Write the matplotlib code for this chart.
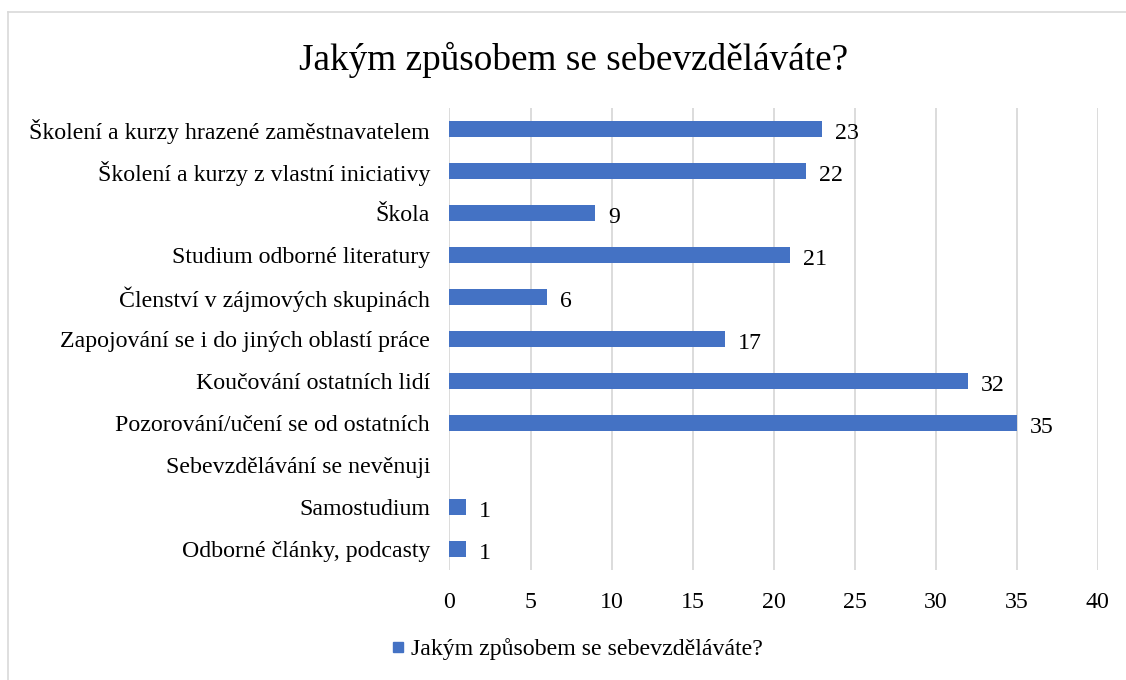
import matplotlib
matplotlib.use('Agg')
import matplotlib.pyplot as plt
from matplotlib.lines import Line2D

plt.rcParams['font.family'] = ['Liberation Serif', 'DejaVu Serif']

title = 'Jakým způsobem se sebevzděláváte?'
categories = [
    'Školení a kurzy hrazené zaměstnavatelem',
    'Školení a kurzy z vlastní iniciativy',
    'Škola',
    'Studium odborné literatury',
    'Členství v zájmových skupinách',
    'Zapojování se i do jiných oblastí práce',
    'Koučování ostatních lidí',
    'Pozorování/učení se od ostatních',
    'Sebevzdělávání se nevěnuji',
    'Samostudium',
    'Odborné články, podcasty',
]
values = [23, 22, 9, 21, 6, 17, 32, 35, 0, 1, 1]
xticks = [0, 5, 10, 15, 20, 25, 30, 35, 40]

bar_color = '#4472C4'
grid_color = '#D9D9D9'
fs = 17.2

fig = plt.figure(figsize=(11.26, 6.8), dpi=100)
ax = fig.add_axes([0.3992, 0.1618, 0.5755, 0.6794])

ypos = list(range(len(categories)))
ax.barh(ypos, values, height=0.36, color=bar_color, zorder=3)
ax.set_ylim(len(categories) - 0.5, -0.5)
ax.set_yticks(ypos)
ax.set_yticklabels(categories, fontsize=fs)
ax.set_xlim(0, 40)
ax.set_xticks(xticks)
ax.set_xticklabels([str(t) for t in xticks], fontsize=fs)
ax.tick_params(axis='y', length=0, pad=14)
ax.tick_params(axis='x', length=0, pad=15.5)
ax.grid(axis='x', color=grid_color, linewidth=1.3, zorder=0)
for s in ax.spines.values():
    s.set_visible(False)

# data labels, none for the empty category
for y, v in zip(ypos, values):
    if v > 0:
        ax.text(v + 0.8, y + 0.04, str(v), va='center_baseline', ha='left', fontsize=fs, zorder=4)

fig.text(0.509, 0.912, title, ha='center', va='center', fontsize=26.8)

handle = Line2D([], [], marker='s', linestyle='none', markersize=7.5,
                markerfacecolor=bar_color, markeredgecolor=bar_color)
fig.legend([handle], [title], loc='center', bbox_to_anchor=(0.513, 0.045),
           frameon=False, fontsize=fs, handlelength=0.5, handletextpad=0.3)

# outer border (top and left edges visible)
fig.add_artist(Line2D([8 / 1126, 1], [1 - 12 / 680, 1 - 12 / 680],
                      transform=fig.transFigure, color='#D9D9D9', linewidth=1.2))
fig.add_artist(Line2D([8 / 1126, 8 / 1126], [0, 1 - 12 / 680],
                      transform=fig.transFigure, color='#D9D9D9', linewidth=1.2))

fig.savefig('out.png', dpi=100, facecolor='white')
